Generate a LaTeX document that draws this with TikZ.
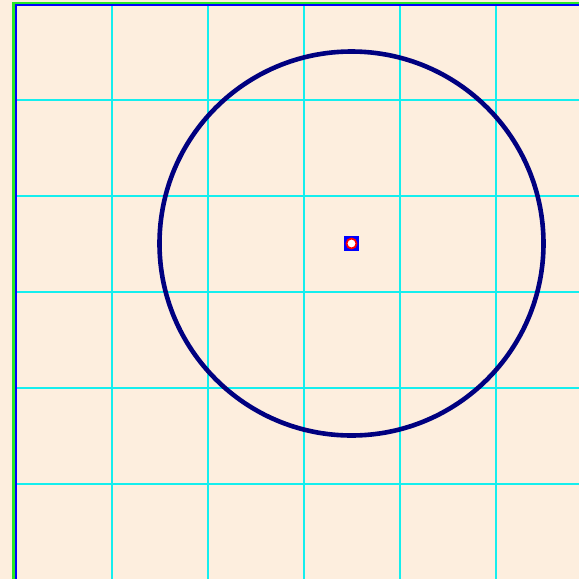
\documentclass[tikz,border=0pt]{standalone}
\usepackage{tikz}
\usetikzlibrary{positioning}
\definecolor{paper}{RGB}{253,238,222}
\definecolor{gridcyan}{RGB}{20,238,238}
\definecolor{navy}{RGB}{0,0,128}
\definecolor{edgegreen}{RGB}{40,230,40}

\begin{document}
\begin{tikzpicture}[x=1pt, y=-1pt, gridline/.style={draw=gridcyan, line width=2.2pt}, ring/.style={draw=navy, line width=4.6pt}, marker/.style={draw=blue, fill=blue, rectangle, minimum size=14pt, inner sep=0pt}, pin/.style={draw=red, fill=white, circle, line width=1.8pt, minimum size=10pt, inner sep=0pt}]
    \useasboundingbox (0,0) rectangle (579,579);
    \fill[paper] (0,0) rectangle (579,579);

    % Grid
    \foreach \k in {1,...,5} {
        \draw[gridline] (16+96*\k,4) -- (16+96*\k,579);
        \draw[gridline] (16,4+96*\k) -- (579,4+96*\k);
    }

    % Frame
    \draw[edgegreen, line width=2.5pt] (13.5,579) -- (13.5,3) -- (579,3);
    \draw[blue, line width=2pt] (16,579) -- (16,5) -- (579,5);

    % Circle and centre
    \node[marker] (ctr) at (351.5,243.5) {};
    \node[pin] (ctrpin) at (ctr) {};
    \draw[ring] (ctr) circle[radius=192pt];
\end{tikzpicture}
\end{document}
